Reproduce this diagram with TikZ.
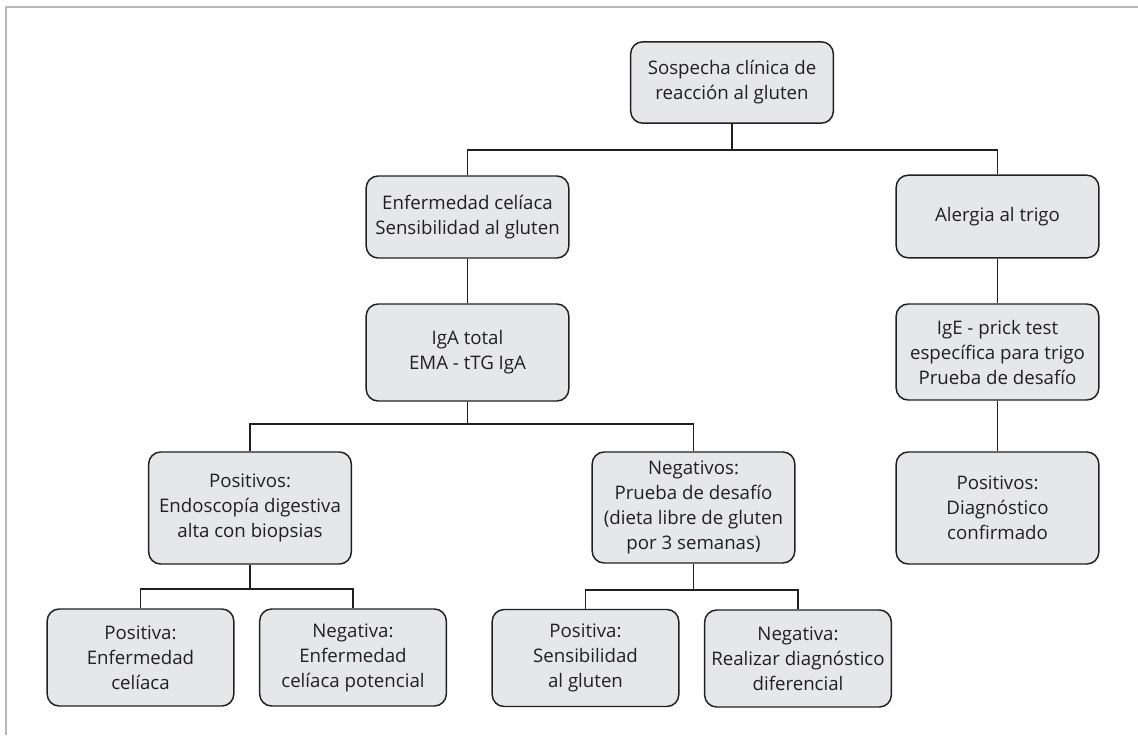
\documentclass[tikz,border=0pt]{standalone}
\usepackage{fontspec}
\setmainfont{Open Sans}
\definecolor{boxfill}{HTML}{E6E7E8}
\definecolor{boxline}{HTML}{231F20}
\begin{document}
\begin{tikzpicture}[x=0.75pt,y=-0.75pt,
  caja/.style={draw=boxline,fill=boxfill,line width=1.1pt,rounded corners=9pt,
    align=center,inner sep=1pt,text=boxline,font=\fontsize{14}{18.75}\selectfont,
    minimum width=152pt},
  hoja/.style={caja,minimum width=140pt,minimum height=72.75pt},
  rama/.style={draw=boxline,line width=1.1pt}]
\useasboundingbox (0,0) rectangle (1138,735);
\draw[black!28,line width=1.5pt] (6,735) -- (6,7) -- (1138,7);
% nivel 1
\node[caja,minimum height=61pt] (sospecha) at (732,82.5) {Sospecha clínica de\\reacción al gluten};
\node[caja,minimum height=61.5pt] (celiaca) at (467.5,217) {Enfermedad celíaca\\Sensibilidad al gluten};
\node[caja,minimum height=62pt] (alergia) at (997.5,216.5) {Alergia al trigo};
% pruebas
\node[caja,minimum height=72.75pt] (iga) at (467.5,352.5) {IgA total\\EMA - tTG IgA};
\node[caja,minimum height=72pt] (ige) at (997.5,352) {IgE - prick test\\específica para trigo\\Prueba de desafío};
% resultados
\node[caja,minimum height=84pt] (positivos) at (250,508) {Positivos:\\Endoscopía digestiva\\alta con biopsias};
\node[caja,minimum height=83.25pt] (negativos) at (693.5,507.5) {Negativos:\\Prueba de desafío\\(dieta libre de gluten\\por 3 semanas)};
\node[caja,minimum height=84pt] (confirmado) at (997.5,508) {Positivos:\\Diagnóstico\\confirmado};
% hojas
\node[hoja] (enfceliaca) at (140.5,657.5) {Positiva:\\Enfermedad\\celíaca};
\node[hoja] (potencial) at (353,657.5) {Negativa:\\Enfermedad\\celíaca potencial};
\node[hoja] (sensib) at (585.5,658) {Positiva:\\Sensibilidad\\al gluten};
\node[hoja] (diferencial) at (798,658.5) {Negativa:\\Realizar diagnóstico\\diferencial};
% ramas
\draw[rama] (sospecha.south) -- (sospecha.south |- 0,150) -| (celiaca.north);
\draw[rama] (sospecha.south |- 0,150) -| (alergia.north);
\draw[rama] (celiaca) -- (iga);
\draw[rama] (alergia) -- (ige);
\draw[rama] (ige) -- (confirmado);
\draw[rama] (iga.south) -- (iga.south |- 0,424) -| (positivos.north);
\draw[rama] (iga.south |- 0,424) -| (negativos.north);
\draw[rama] (positivos.south) -- (positivos.south |- 0,589) -| (enfceliaca.north);
\draw[rama] (positivos.south |- 0,589) -| (potencial.north);
\draw[rama] (negativos.south) -- (negativos.south |- 0,590) -| (sensib.north);
\draw[rama] (negativos.south |- 0,590) -| (diferencial.north);
\end{tikzpicture}
\end{document}
